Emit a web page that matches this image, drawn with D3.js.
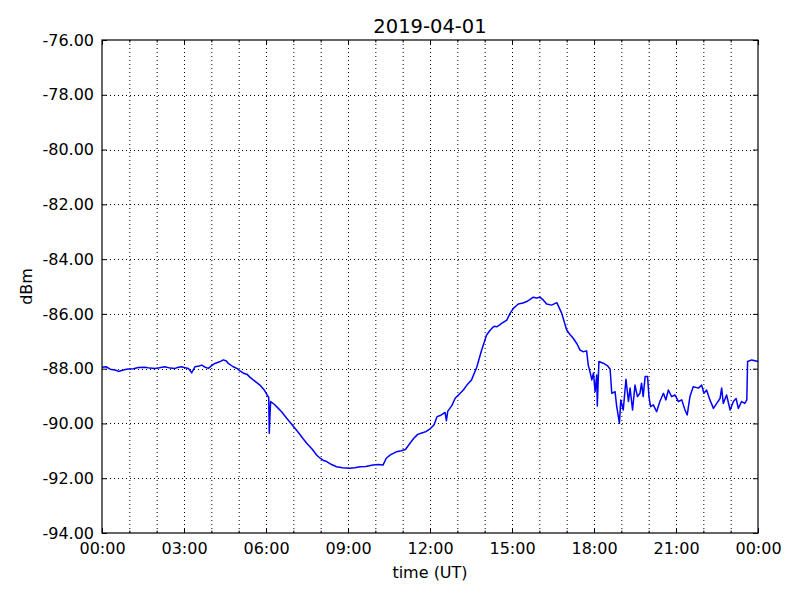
<!DOCTYPE html>
<html><head><meta charset="utf-8">
<script src="https://cdn.jsdelivr.net/npm/d3@7"></script>
<style>body{margin:0;background:#fff}svg{display:block}text{font-family:"DejaVu Sans",sans-serif}</style>
</head><body><svg id="c" width="800" height="600"></svg>
<script>
const title = "2019-04-01";
const xLabel = "time (UT)";
const yLabel = "dBm";
const xTickHours = [0,3,6,9,12,15,18,21,24];
const xTickLabels = ["00:00","03:00","06:00","09:00","12:00","15:00","18:00","21:00","00:00"];
const yTicks = [-94,-92,-90,-88,-86,-84,-82,-80,-78,-76];
const hours = [0.00,0.15,0.30,0.48,0.60,0.72,0.85,0.96,1.15,1.33,1.57,1.75,1.94,2.10,2.30,2.50,2.67,2.80,2.92,3.05,3.16,3.28,3.40,3.55,3.65,3.78,3.89,4.00,4.13,4.30,4.44,4.55,4.62,4.80,4.95,5.05,5.20,5.30,5.40,5.52,5.65,5.80,5.95,6.04,6.10,6.12,6.15,6.17,6.30,6.45,6.57,6.75,6.99,7.20,7.35,7.49,7.70,7.85,7.98,8.10,8.22,8.40,8.58,8.80,9.07,9.25,9.44,9.65,9.91,10.10,10.28,10.40,10.55,10.78,10.95,11.10,11.25,11.40,11.55,11.70,11.85,12.00,12.15,12.26,12.40,12.55,12.60,12.65,12.80,12.92,13.05,13.22,13.35,13.52,13.71,13.89,14.07,14.20,14.26,14.35,14.44,14.55,14.62,14.81,14.93,15.05,15.23,15.40,15.54,15.65,15.78,15.90,16.02,16.15,16.27,16.45,16.64,16.82,17.00,17.12,17.24,17.38,17.49,17.60,17.73,17.79,17.85,17.92,17.98,18.04,18.10,18.12,18.18,18.34,18.50,18.59,18.65,18.77,18.83,18.93,18.98,19.07,19.17,19.26,19.32,19.41,19.50,19.59,19.68,19.74,19.80,19.87,19.96,20.01,20.07,20.17,20.29,20.41,20.54,20.63,20.72,20.84,20.96,21.09,21.21,21.33,21.41,21.51,21.63,21.82,21.94,22.02,22.12,22.24,22.37,22.49,22.61,22.67,22.73,22.85,22.98,23.10,23.20,23.28,23.40,23.52,23.59,23.62,23.77,24.00];
const dbm = [-87.95,-87.93,-88.02,-88.05,-88.10,-88.07,-88.03,-88.01,-88.00,-87.96,-87.95,-87.98,-87.99,-87.97,-87.93,-87.98,-87.99,-87.95,-87.93,-87.97,-87.99,-88.15,-87.93,-87.90,-87.87,-87.95,-87.99,-87.90,-87.81,-87.75,-87.68,-87.72,-87.81,-87.93,-88.00,-88.08,-88.18,-88.20,-88.30,-88.40,-88.50,-88.62,-88.80,-88.96,-89.05,-90.36,-89.60,-89.20,-89.30,-89.45,-89.57,-89.80,-90.09,-90.35,-90.55,-90.72,-90.95,-91.15,-91.27,-91.35,-91.39,-91.50,-91.58,-91.62,-91.64,-91.62,-91.58,-91.57,-91.52,-91.50,-91.52,-91.27,-91.15,-91.03,-91.00,-90.95,-90.75,-90.55,-90.40,-90.35,-90.30,-90.20,-90.05,-89.75,-89.70,-89.60,-89.90,-89.55,-89.35,-89.08,-88.95,-88.78,-88.60,-88.41,-87.95,-87.32,-86.77,-86.60,-86.53,-86.45,-86.47,-86.40,-86.35,-86.23,-85.98,-85.80,-85.64,-85.60,-85.55,-85.48,-85.39,-85.42,-85.39,-85.50,-85.64,-85.68,-85.59,-85.98,-86.59,-86.75,-86.89,-87.10,-87.32,-87.38,-87.35,-87.87,-88.10,-88.41,-88.16,-88.84,-88.23,-89.36,-87.74,-87.80,-87.90,-88.02,-88.90,-88.84,-89.38,-89.99,-89.14,-89.51,-88.39,-89.20,-88.71,-89.51,-88.60,-89.02,-88.90,-88.53,-89.02,-88.29,-88.29,-89.02,-89.39,-89.32,-89.57,-89.20,-88.90,-89.14,-88.78,-89.02,-88.96,-89.20,-89.14,-89.51,-89.69,-89.02,-88.66,-88.71,-88.60,-88.90,-88.78,-89.14,-89.45,-89.27,-89.09,-88.71,-89.27,-88.96,-89.51,-89.20,-89.09,-89.45,-89.20,-89.27,-89.14,-87.74,-87.68,-87.74];

const L=102,R=758,T=40,B=533;
const svg=d3.select("#c");
const x=d3.scaleLinear().domain([0,24]).range([L,R]);
const y=d3.scaleLinear().domain([-94,-76]).range([B,T]);
const g=svg.append("g");
const hourGrid=d3.range(1,24);
g.selectAll(".vg").data(hourGrid).enter().append("line")
 .attr("x1",d=>x(d)+0.5).attr("x2",d=>x(d)+0.5).attr("y1",T).attr("y2",B)
 .attr("stroke","#000").attr("stroke-width",1).attr("stroke-dasharray","1,3");
g.selectAll(".hg").data(yTicks.slice(1,-1)).enter().append("line")
 .attr("x1",L).attr("x2",R).attr("y1",d=>Math.round(y(d))+0.5).attr("y2",d=>Math.round(y(d))+0.5)
 .attr("stroke","#000").attr("stroke-width",1).attr("stroke-dasharray","1,3");
const line=d3.line().x((d,i)=>x(hours[i])).y(d=>y(d));
svg.append("path").datum(dbm).attr("d",line).attr("fill","none").attr("stroke","#0000ff").attr("stroke-width",1.5).attr("stroke-linejoin","round");
const fmt=d=>d3.format(".2f")(d).replace("\u2212","-");
const xAxB=d3.axisBottom(x).tickValues(xTickHours).tickSize(-5).tickFormat((d,i)=>xTickLabels[i]).tickPadding(10);
svg.append("g").attr("transform",`translate(0,${B})`).call(xAxB);
svg.append("g").attr("transform",`translate(0,${B})`).call(d3.axisBottom(x).tickValues(hourGrid).tickSize(-2.5).tickFormat(""));
svg.append("g").attr("transform",`translate(0,${T})`).call(d3.axisTop(x).tickValues(xTickHours).tickSize(-5).tickFormat(""));
svg.append("g").attr("transform",`translate(0,${T})`).call(d3.axisTop(x).tickValues(hourGrid).tickSize(-2.5).tickFormat(""));
svg.append("g").attr("transform",`translate(${L},0)`).call(d3.axisLeft(y).tickValues(yTicks).tickSize(-5).tickFormat(fmt).tickPadding(8));
svg.append("g").attr("transform",`translate(${R},0)`).call(d3.axisRight(y).tickValues(yTicks).tickSize(-5).tickFormat(""));
svg.selectAll(".domain").remove();
svg.selectAll(".tick line").attr("stroke","#000");
svg.selectAll(".tick text").attr("font-size",16).attr("fill","#000").attr("font-family","DejaVu Sans");
svg.append("rect").attr("x",L).attr("y",T).attr("width",R-L).attr("height",B-T).attr("fill","none").attr("stroke","#000").attr("stroke-width",1.2);
svg.append("text").attr("x",(L+R)/2).attr("y",33).attr("text-anchor","middle").attr("font-size",19.5).text(title);
svg.append("text").attr("x",(L+R)/2).attr("y",578).attr("text-anchor","middle").attr("font-size",16).text(xLabel);
svg.append("text").attr("transform",`translate(32,${(T+B)/2}) rotate(-90)`).attr("text-anchor","middle").attr("font-size",16).text(yLabel);
</script></body></html>
